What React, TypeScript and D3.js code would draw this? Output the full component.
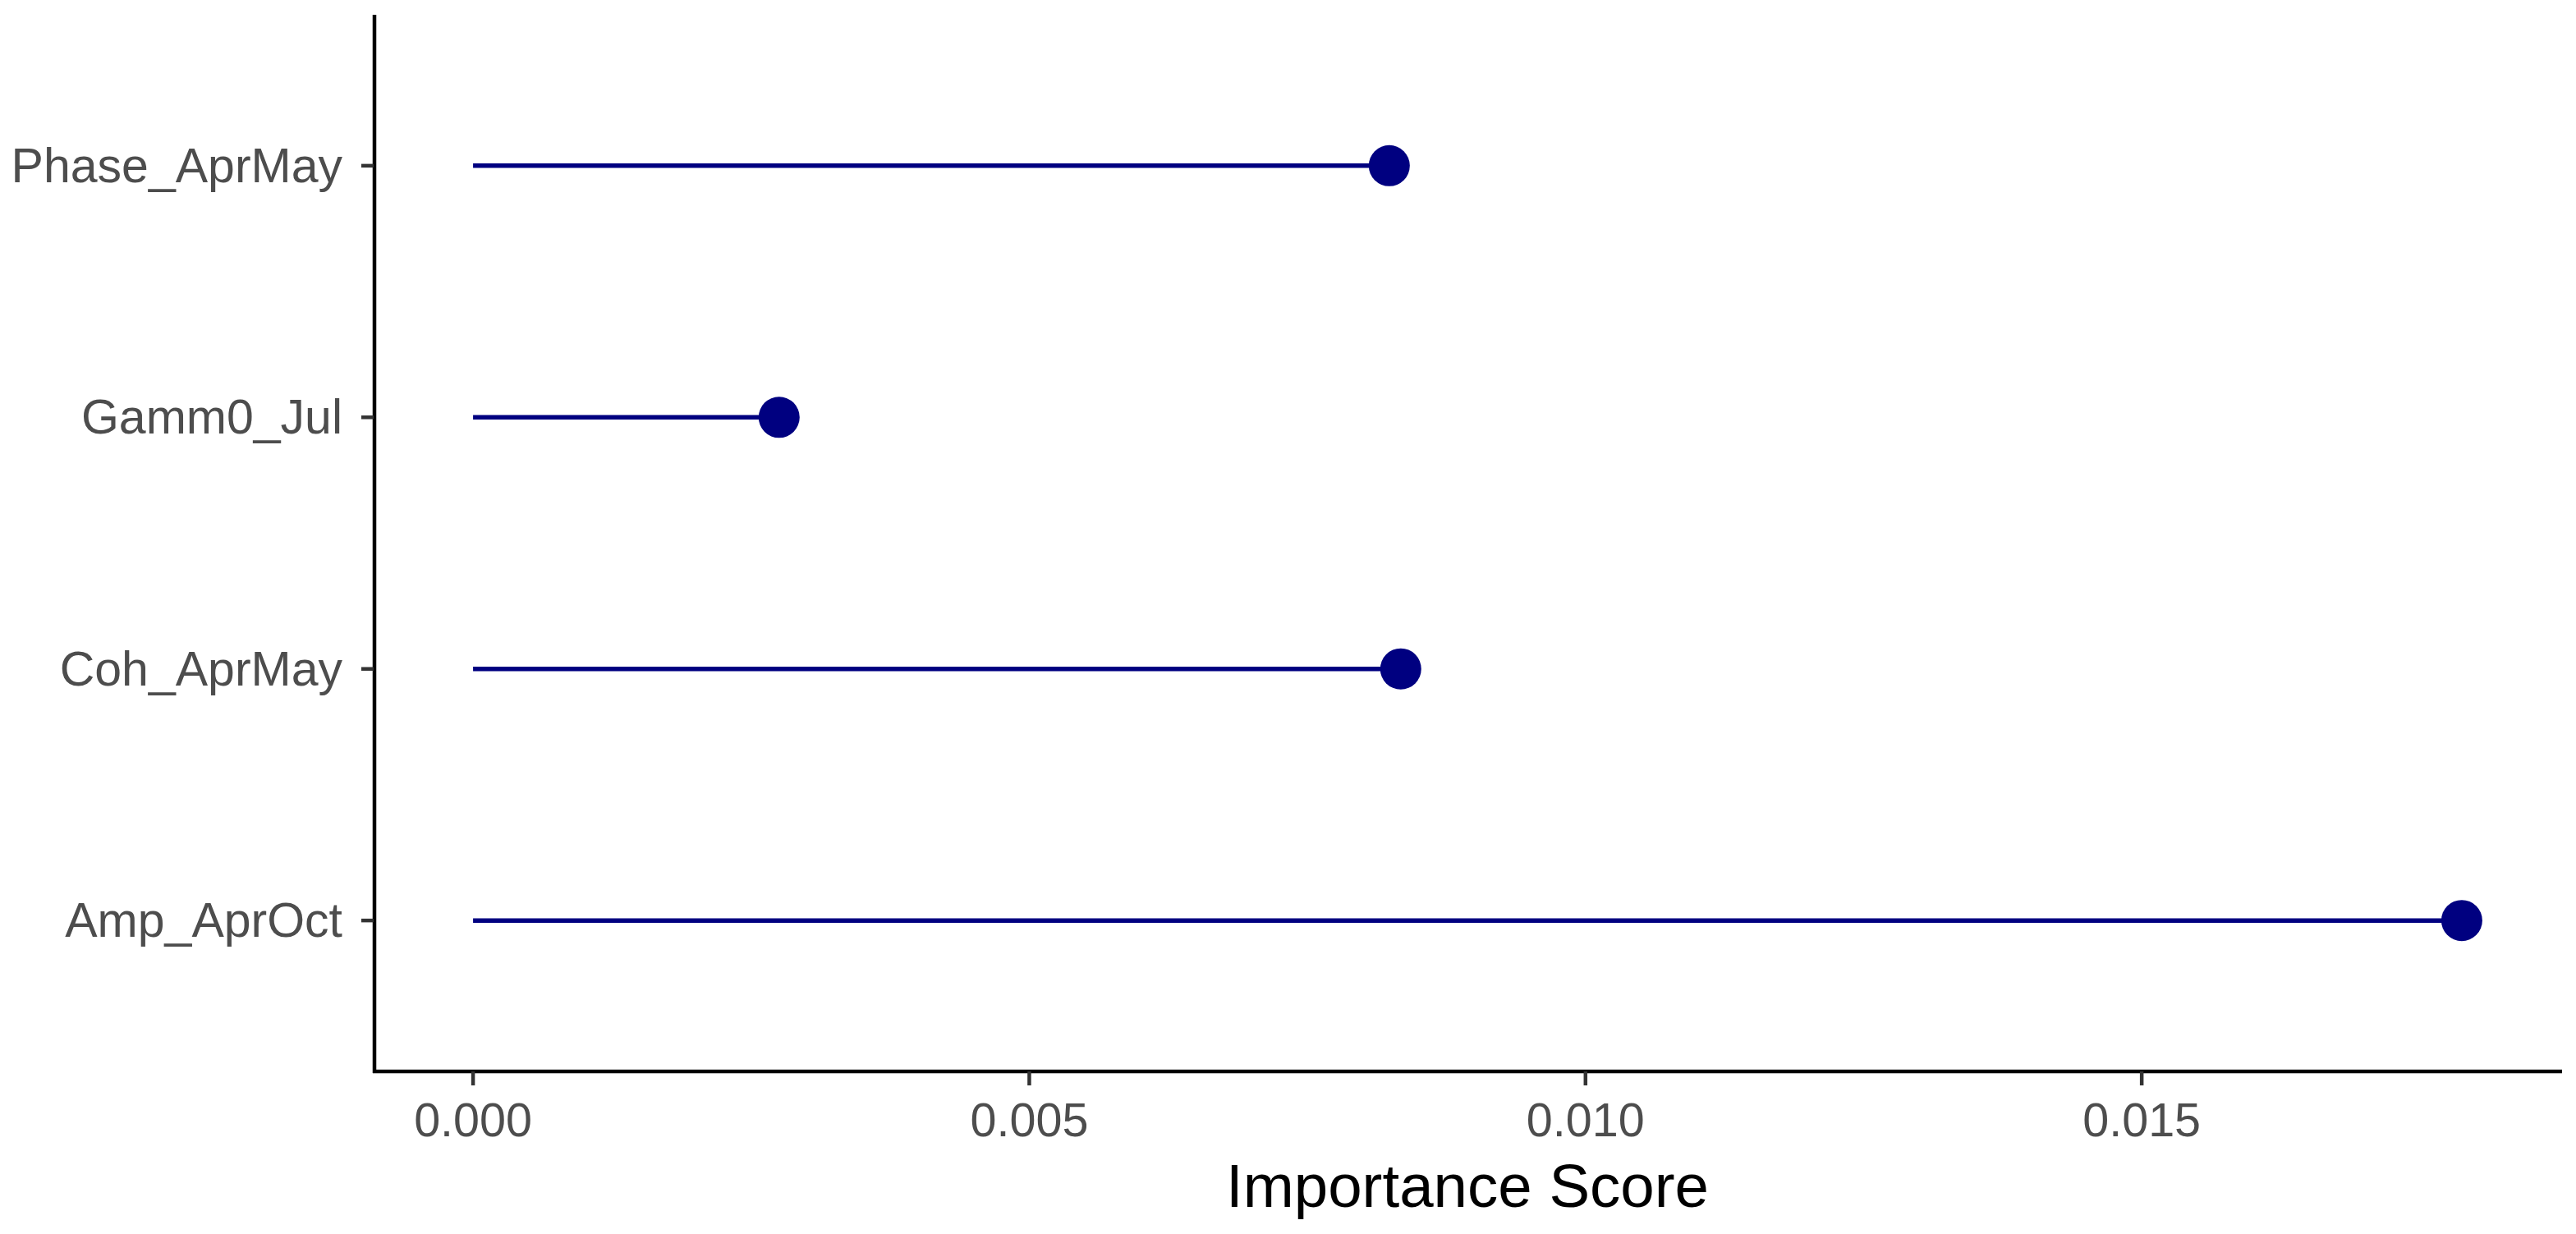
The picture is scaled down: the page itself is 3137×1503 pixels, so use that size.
import React from "react";
import * as d3 from "d3";

const categories = ["Phase_AprMay", "Gamm0_Jul", "Coh_AprMay", "Amp_AprOct"];
const scores = [0.008236, 0.002751, 0.008339, 0.017877];
const xTicks = [0, 0.005, 0.01, 0.015];
const xTitle = "Importance Score";

const W = 3137;
const H = 1503;
const panel = { left: 455, right: 3119, top: 18, bottom: 1305 };
const FONT = "'Liberation Sans', Arial, Helvetica, sans-serif";

export default function App() {
  const xMin = Math.min(0, d3.min(scores) as number);
  const xMax = d3.max(scores) as number;
  const pad = (xMax - xMin) * 0.05;
  const x = d3.scaleLinear().domain([xMin - pad, xMax + pad]).range([panel.left, panel.right]);
  const y = d3.scalePoint<string>().domain(categories).range([panel.top, panel.bottom]).padding(0.6);
  const fmt = d3.format(".3f");

  return (
    <svg
      width={W}
      height={H}
      style={{ position: "absolute", left: 0, top: 0, background: "#fff" }}
      fontFamily={FONT}
    >
      <rect x={0} y={0} width={W} height={H} fill="#fff" />
      {categories.map((c, i) => (
        <line
          key={"seg" + c}
          x1={x(0)}
          x2={x(scores[i])}
          y1={y(c)}
          y2={y(c)}
          stroke="#000080"
          strokeWidth={5.5}
        />
      ))}
      {categories.map((c, i) => (
        <circle key={"pt" + c} cx={x(scores[i])} cy={y(c)} r={25} fill="#000080" />
      ))}
      <line x1={panel.left + 1} x2={panel.left + 1} y1={panel.top} y2={panel.bottom + 2} stroke="#000" strokeWidth={4.5} />
      <line x1={panel.left - 1} x2={panel.right + 1} y1={panel.bottom} y2={panel.bottom} stroke="#000" strokeWidth={4.5} />
      {categories.map((c) => (
        <g key={"yt" + c}>
          <line x1={panel.left - 15} x2={panel.left} y1={y(c)} y2={y(c)} stroke="#333" strokeWidth={4.5} />
          <text
            x={panel.left - 38}
            y={y(c)}
            textAnchor="end"
            dominantBaseline="central"
            fontSize={59}
            fill="#4D4D4D"
          >
            {c}
          </text>
        </g>
      ))}
      {xTicks.map((t) => (
        <g key={"xt" + t}>
          <line x1={x(t)} x2={x(t)} y1={panel.bottom} y2={panel.bottom + 17} stroke="#333" strokeWidth={4.5} />
          <text x={x(t)} y={1384} textAnchor="middle" fontSize={57.5} fill="#4D4D4D">
            {fmt(t)}
          </text>
        </g>
      ))}
      <text x={(panel.left + panel.right) / 2} y={1470} textAnchor="middle" fontSize={74.5} fill="#000">
        {xTitle}
      </text>
    </svg>
  );
}
